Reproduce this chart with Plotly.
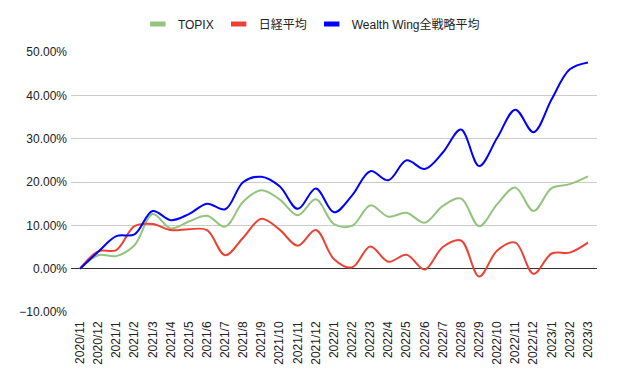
import plotly.graph_objects as go

months = ["2020/11", "2020/12",
          "2021/1", "2021/2", "2021/3", "2021/4", "2021/5", "2021/6",
          "2021/7", "2021/8", "2021/9", "2021/10", "2021/11", "2021/12",
          "2022/1", "2022/2", "2022/3", "2022/4", "2022/5", "2022/6",
          "2022/7", "2022/8", "2022/9", "2022/10", "2022/11", "2022/12",
          "2023/1", "2023/2", "2023/3"]

topix = [0.0, 3.1, 2.9, 5.4, 12.6, 9.3, 10.9, 12.2, 9.7, 15.5, 18.1, 16.0, 12.3,
         16.0, 10.3, 9.9, 14.6, 12.0, 12.9, 10.6, 14.5, 16.2, 9.8, 14.9, 18.7,
         13.3, 18.6, 19.5, 21.3]
nikkei = [0.0, 4.0, 4.3, 9.8, 10.3, 8.9, 9.1, 8.9, 3.1, 7.2, 11.5, 9.0, 5.3,
          8.9, 2.2, 0.3, 5.1, 1.6, 3.2, -0.2, 5.0, 6.5, -1.8, 4.2, 6.0,
          -1.2, 3.5, 3.7, 6.0]
wealthwing = [0.0, 3.9, 7.5, 7.9, 13.3, 11.2, 12.6, 15.0, 13.7, 20.0, 21.2, 19.0,
              13.8, 18.5, 13.0, 16.9, 22.5, 20.4, 25.0, 23.0, 26.8, 32.1, 23.7,
              30.2, 36.7, 31.5, 39.1, 46.0, 47.6]

series = [
    ("TOPIX", topix, "#93c47d"),
    ("日経平均", nikkei, "#ea4335"),
    ("Wealth Wing全戦略平均", wealthwing, "#0000ff"),
]

FONT = "Liberation Sans, Arial, Noto Sans CJK JP, sans-serif"

fig = go.Figure()
for name, vals, color in series:
    fig.add_trace(go.Scatter(
        x=months, y=[v / 100 for v in vals], mode="lines", name=name,
        line=dict(color=color, width=2, shape="spline", smoothing=1.0),
        showlegend=False, hoverinfo="skip"))
# legend swatches
for name, vals, color in series:
    fig.add_trace(go.Scatter(
        x=[None], y=[None], mode="markers", name=name,
        marker=dict(symbol="line-ew", size=11, color=color,
                    line=dict(width=5, color=color)),
        showlegend=True))

fig.update_layout(
    width=617, height=382,
    margin=dict(l=71, r=20, t=52, b=70, autoexpand=False),
    paper_bgcolor="white", plot_bgcolor="white",
    font=dict(family=FONT, size=12, color="#222222"),
    legend=dict(orientation="h", x=0.457, xanchor="center",
                y=1 + (52 - 24) / 260, yanchor="middle",
                font=dict(size=12, color="#222222"),
                itemwidth=30, traceorder="normal"),
    showlegend=True,
)
fig.update_xaxes(type="category", range=[-0.5, len(months) - 0.5],
                 tickangle=-90, showgrid=False, showline=False,
                 ticks="", ticklabelstandoff=6, automargin=False,
                 tickfont=dict(size=12, color="#222222"))
fig.update_yaxes(range=[-0.1, 0.5], dtick=0.1, tickformat=".2%",
                 showgrid=True, gridcolor="#cccccc", gridwidth=1,
                 zeroline=True, zerolinecolor="#333333", zerolinewidth=1,
                 showline=False, ticks="", automargin=False, ticklabelstandoff=3,
                 tickfont=dict(size=12, color="#222222"))

fig.write_html("out.html", config={"displayModeBar": False},
               post_script="document.body.style.margin='0';")
